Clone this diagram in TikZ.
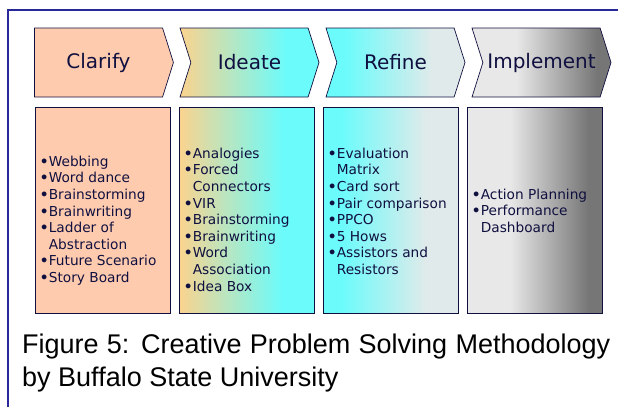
\documentclass[tikz,border=0pt]{standalone}
\usepackage{fontspec}
\setmainfont{DejaVu Sans}
\newfontfamily\capfont{Liberation Sans}
\usetikzlibrary{shapes.symbols,positioning}

\definecolor{frameblue}{RGB}{40,40,155}
\definecolor{cpsnavy}{RGB}{16,16,64}
\definecolor{clarpeach}{RGB}{255,203,174}
\definecolor{ideorange}{RGB}{251,211,142}
\definecolor{cpscyan}{RGB}{108,251,251}
\definecolor{refgray}{RGB}{224,234,234}
\definecolor{implight}{RGB}{232,232,232}
\definecolor{impdark}{RGB}{118,118,118}

\pgfdeclarehorizontalshading{ideate}{100bp}{color(0bp)=(ideorange); color(25bp)=(ideorange); color(63bp)=(cpscyan); color(100bp)=(cpscyan)}
\pgfdeclarehorizontalshading{refine}{100bp}{color(0bp)=(cpscyan); color(32bp)=(cpscyan); color(63bp)=(refgray); color(100bp)=(refgray)}
\pgfdeclarehorizontalshading{implement}{100bp}{color(0bp)=(implight); color(41bp)=(implight); color(70bp)=(impdark); color(100bp)=(impdark)}

\tikzset{
  stage/.style={signal, signal to=east, signal pointer angle=145, on grid,
    draw=cpsnavy, line width=0.7pt, minimum width=139pt, minimum height=69pt,
    inner sep=0pt, text=cpsnavy, font=\fontsize{20}{24}\selectfont},
  notched/.style={signal from=west},
  toolbox/.style={rectangle, on grid, draw=cpsnavy, line width=0.7pt,
    minimum width=135pt, minimum height=206pt, inner sep=0pt},
  toollist/.style={align=left, inner sep=0pt, text=cpsnavy,
    font=\fontsize{13.7}{16.6}\selectfont},
}
\newcommand{\bul}{\makebox[9pt][l]{\textbf{\textbullet}}}
\newcommand{\cont}{\hspace*{9pt}}

\begin{document}
\begin{tikzpicture}[x=1pt,y=-1pt,node distance=146pt]
\useasboundingbox (0,0) rectangle (618,407);
\draw[frameblue, line width=1.6pt] (8,407) -- (8,10) -- (618,10);

% stages
\node[stage, fill=clarpeach] (clarify) at (98.5,62.5) {Clarify};
\node[stage, notched, shade, shading=ideate, right=151pt of clarify] (ideate) {Ideate};
\node[stage, notched, shade, shading=refine, right=of ideate] (refine) {Refine};
\node[stage, notched, shade, shading=implement, right=of refine] (implement) {Implement};

% tool boxes
\node[toolbox, fill=clarpeach] (clarbox) at (102.5,210) {};
\node[toolbox, shade, shading=ideate, right=144pt of clarbox] (ideabox) {};
\node[toolbox, shade, shading=refine, right=144pt of ideabox] (refbox) {};
\node[toolbox, shade, shading=implement, right=144pt of refbox] (impbox) {};

\node[toollist, below right=49pt and 5pt of clarbox.north west] (clarlist)
  {\bul Webbing\\ \bul Word dance\\ \bul Brainstorming\\ \bul Brainwriting\\
   \bul Ladder of\\ \cont Abstraction\\ \bul Future Scenario\\ \bul Story Board};
\node[toollist, below right=41pt and 5pt of ideabox.north west] (idealist)
  {\bul Analogies\\ \bul Forced\\ \cont Connectors\\ \bul VIR\\ \bul Brainstorming\\
   \bul Brainwriting\\ \bul Word\\ \cont Association\\ \bul Idea Box};
\node[toollist, below right=41pt and 5pt of refbox.north west] (reflist)
  {\bul Evaluation\\ \cont Matrix\\ \bul Card sort\\ \bul Pair comparison\\
   \bul PPCO\\ \bul 5 Hows\\ \bul Assistors and\\ \cont Resistors};
\node[toollist, below right=82pt and 5pt of impbox.north west] (implist)
  {\bul Action Planning\\ \bul Performance\\ \cont Dashboard};

\node[anchor=north west, inner sep=0pt, text width=588pt, align=justify,
  font=\capfont\fontsize{27}{33}\selectfont] (caption) at (22,334)
  {Figure 5: Creative Problem Solving Methodology by Buffalo State University};
\end{tikzpicture}
\end{document}
